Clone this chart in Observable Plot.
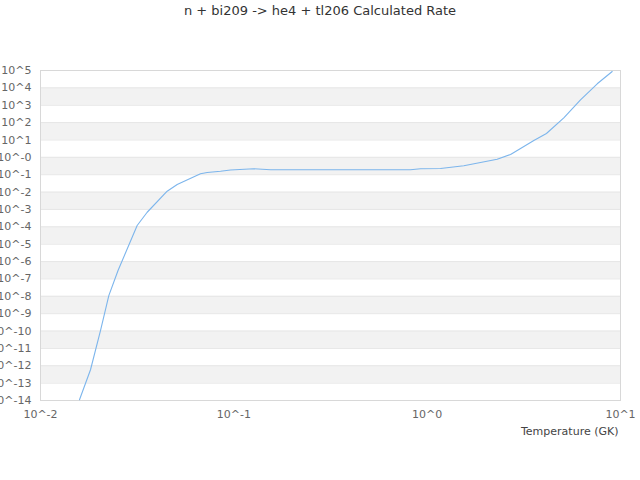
<!DOCTYPE html>
<html><head><meta charset="utf-8">
<script src="https://cdn.jsdelivr.net/npm/d3@7"></script>
<script src="https://cdn.jsdelivr.net/npm/@observablehq/plot@0.6"></script>
<style>
body{margin:0;background:#fff;}
#wrap{position:relative;width:640px;height:480px;font-family:"DejaVu Sans",sans-serif;}
#title{position:absolute;top:3px;left:0;width:640px;text-align:center;font-size:13px;line-height:16px;color:#333;}
#chart{position:absolute;top:0;left:0;}
</style></head><body>
<div id="wrap"><div id="chart"></div><div id="title">n + bi209 -&gt; he4 + tl206 Calculated Rate</div></div>
<script>
const temperatures = [0.01591, 0.01814, 0.02043, 0.02256, 0.02518, 0.03162, 0.03563, 0.04521, 0.05094, 0.06722, 0.07282, 0.0853, 0.0961, 0.1269, 0.1548, 0.8203, 0.924, 1.172, 1.547, 2.302, 2.70, 3.562, 4.14, 5.09, 6.21, 7.58, 9.06];
const rates = [1.1e-14, 5.9e-13, 1.07e-10, 1.1e-8, 3.05e-7, 1.19e-4, 6.9e-4, 0.0112, 0.0273, 0.113, 0.134, 0.159, 0.187, 0.219, 0.194, 0.194, 0.219, 0.228, 0.326, 0.78, 1.46, 9.3, 23.6, 189, 2056, 17150, 87500];
const xTickValues = [0.01, 0.1, 1, 10];
const xTickLabels = ["10^-2", "10^-1", "10^0", "10^1"];
const yTickValues = [1e5, 1e4, 1e3, 1e2, 1e1, 1e0, 1e-1, 1e-2, 1e-3, 1e-4, 1e-5, 1e-6, 1e-7, 1e-8, 1e-9, 1e-10, 1e-11, 1e-12, 1e-13, 1e-14];
const yTickLabels = ["10^5", "10^4", "10^3", "10^2", "10^1", "10^-0", "10^-1", "10^-2", "10^-3", "10^-4", "10^-5", "10^-6", "10^-7", "10^-8", "10^-9", "10^-10", "10^-11", "10^-12", "10^-13", "10^-14"];
const bandHigh = [1e4, 1e2, 1e0, 1e-2, 1e-4, 1e-6, 1e-8, 1e-10, 1e-12];
const bandLow = [1e3, 1e1, 1e-1, 1e-3, 1e-5, 1e-7, 1e-9, 1e-11, 1e-13];
const xLabel = "Temperature (GK)";

const data = temperatures.map((T, i) => ({T, rate: rates[i]}));
const bands = bandHigh.map((hi, i) => ({hi, lo: bandLow[i]}));

const chart = Plot.plot({
  width: 640,
  height: 480,
  marginTop: 70,
  marginBottom: 80,
  marginLeft: 40,
  marginRight: 20,
  style: {fontFamily: "DejaVu Sans", fontSize: "11px", color: "#666", background: "transparent", overflow: "hidden"},
  x: {type: "log", domain: [0.01, 10]},
  y: {type: "log", domain: [1e-14, 1e5]},
  marks: [
    Plot.rect(bands, {y1: "lo", y2: "hi", fill: "#f2f2f2"}),
    Plot.ruleY(yTickValues, {stroke: "#e6e6e6", strokeWidth: 1}),
    Plot.frame({stroke: "#d8d8d8"}),
    Plot.line(data, {x: "T", y: "rate", stroke: "#7cb5ec", strokeWidth: 1.1}),
    Plot.axisY({ticks: yTickValues, tickFormat: d => yTickLabels[yTickValues.indexOf(d)], tickSize: 0, tickPadding: 9, label: null, fontSize: 11}),
    Plot.axisX({ticks: xTickValues, tickFormat: d => xTickLabels[xTickValues.indexOf(d)], tickSize: 0, tickPadding: 10, label: null, fontSize: 11}),
    Plot.text([xLabel], {frameAnchor: "bottom-right", dx: -2, dy: 31, textAnchor: "end", lineAnchor: "middle", fontSize: 11, fill: "#444"})
  ]
});
document.getElementById("chart").appendChild(chart);
</script>
</body></html>
